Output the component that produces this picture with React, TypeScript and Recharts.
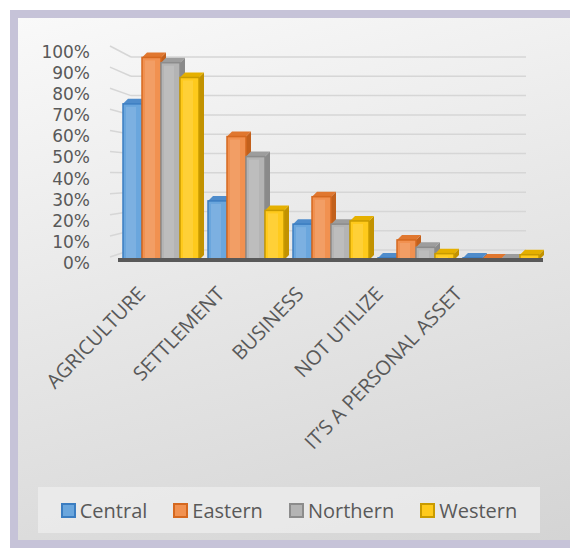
import { BarChart, Bar, XAxis, YAxis, CartesianGrid, Legend } from "recharts";

const categories = ["AGRICULTURE", "SETTLEMENT", "BUSINESS", "NOT UTILIZE", "IT’S A PERSONAL ASSET"];
const central = [0.74, 0.28, 0.17, 0.01, 0.01];
const eastern = [0.96, 0.585, 0.3, 0.095, 0.005];
const northern = [0.935, 0.49, 0.17, 0.06, 0.005];
const western = [0.865, 0.235, 0.185, 0.03, 0.025];
const yTicks = [0, 0.1, 0.2, 0.3, 0.4, 0.5, 0.6, 0.7, 0.8, 0.9, 1];

const data = categories.map((name, i) => ({
  name,
  Central: central[i],
  Eastern: eastern[i],
  Northern: northern[i],
  Western: western[i],
}));

const SERIES = [
  { key: "Central", fill: "#6aa6dd", stroke: "#3b7dc1", side: "#3f78b3", top: "#4f8ccb" },
  { key: "Eastern", fill: "#f19150", stroke: "#d5681f", side: "#c2601c", top: "#e0772f" },
  { key: "Northern", fill: "#b4b4b4", stroke: "#8c8c8c", side: "#8a8a8a", top: "#9d9d9d" },
  { key: "Western", fill: "#ffca1c", stroke: "#c99b00", side: "#c29200", top: "#e5b000" },
];

const TEXT = "#595959";
const FONT = '"Open Sans", sans-serif';
const DEPTH = 5;

function make3D(s: (typeof SERIES)[number]) {
  return (props: any) => {
    const { x, y, width, height } = props;
    if (width == null || height == null) return <g />;
    const h = Math.max(height, 0);
    const d = DEPTH;
    return (
      <g>
        <polygon
          points={`${x + width},${y} ${x + width + d},${y - d} ${x + width + d},${y + h - d} ${x + width},${y + h}`}
          fill={s.side}
        />
        <polygon
          points={`${x},${y} ${x + d},${y - d} ${x + width + d},${y - d} ${x + width},${y}`}
          fill={s.top}
        />
        <rect x={x} y={y} width={width} height={h} fill={s.fill} stroke={s.stroke} strokeWidth={1.5} />
        <rect x={x + 3} y={y + 3} width={Math.max(width - 9, 0)} height={Math.max(h - 4, 0)} fill="#ffffff" opacity={0.12} />
      </g>
    );
  };
}

const XTick = ({ x, y, payload, index }: any) => (
  <g transform={`translate(${x - 14 - index * 5.8},${y + 35})`}>
    <text textAnchor="end" transform="rotate(-46)" fill={TEXT} fontSize={20} fontFamily={FONT}>
      {payload.value}
    </text>
  </g>
);

const YTick = ({ x, y, payload }: any) => (
  <text x={x} y={y + 3} dy="0.35em" textAnchor="end" fill={TEXT} fontSize={17} fontFamily='"DejaVu Sans", sans-serif'>
    {`${Math.round(payload.value * 100)}%`}
  </text>
);

// back-wall gridline with a short perspective connector from the label side
const GridLine = (props: any) => {
  const { x1, x2, y1 } = props;
  const back = 57 + (y1 - 49) * 0.915;
  return (
    <g stroke="#d6d6d6" strokeWidth={1.5} fill="none">
      <line x1={x1 - 8} y1={y1 - 3} x2={x1 + 13} y2={back} />
      <line x1={x1 + 13} y1={back} x2={x2 - 17} y2={back} />
    </g>
  );
};

const LegendBox = () => (
  <div
    style={{
      display: "flex",
      alignItems: "center",
      justifyContent: "center",
      gap: 26,
      height: "100%",
      background: "rgba(238,238,238,0.75)",
      fontFamily: FONT,
      fontSize: 20,
      color: TEXT,
    }}
  >
    {SERIES.map((s) => (
      <span key={s.key} style={{ display: "flex", alignItems: "center" }}>
        <span
          style={{
            width: 11,
            height: 11,
            background: s.fill,
            border: `2px solid ${s.stroke}`,
            marginRight: 4,
            display: "inline-block",
          }}
        />
        {s.key}
      </span>
    ))}
  </div>
);

export default function App() {
  return (
    <div style={{ position: "fixed", left: 0, top: 0, width: 570, height: 550, background: "#fff", overflow: "hidden" }}>
      <div
        style={{
          position: "absolute",
          left: 10,
          top: 10,
          width: 552,
          height: 522,
          borderLeft: "8px solid #c6c3d8",
          borderTop: "8px solid #c6c3d8",
          borderBottom: "8px solid #c6c3d8",
          background: "linear-gradient(165deg, #f9f9f9 0%, #e8e8e8 45%, #d4d4d4 100%)",
        }}
      />
      <div style={{ position: "absolute", left: 0, top: 0 }}>
        <BarChart
          width={570}
          height={550}
          data={data}
          margin={{ top: 49, right: 27, left: 0, bottom: 260 }}
          barCategoryGap={5}
          barGap={0}
        >
          <CartesianGrid vertical={false} horizontal={GridLine} />
          <XAxis
            dataKey="name"
            height={30}
            interval={0}
            tickLine={false}
            tickSize={0}
            tickMargin={0}
            axisLine={{ stroke: "#595959", strokeWidth: 4 }}
            tick={XTick}
          />
          <YAxis
            width={118}
            domain={[0, 1]}
            ticks={yTicks}
            interval={0}
            tickLine={false}
            axisLine={false}
            tickSize={0}
            tickMargin={28}
            tick={YTick}
          />
          <Legend
            layout="horizontal"
            verticalAlign="middle"
            align="center"
            wrapperStyle={{ position: "absolute", left: 38, top: 487, width: 502, height: 46 }}
            content={LegendBox}
          />
          {SERIES.map((s) => (
            <Bar key={s.key} dataKey={s.key} fill={s.fill} shape={make3D(s)} isAnimationActive={false} />
          ))}
        </BarChart>
      </div>
    </div>
  );
}
